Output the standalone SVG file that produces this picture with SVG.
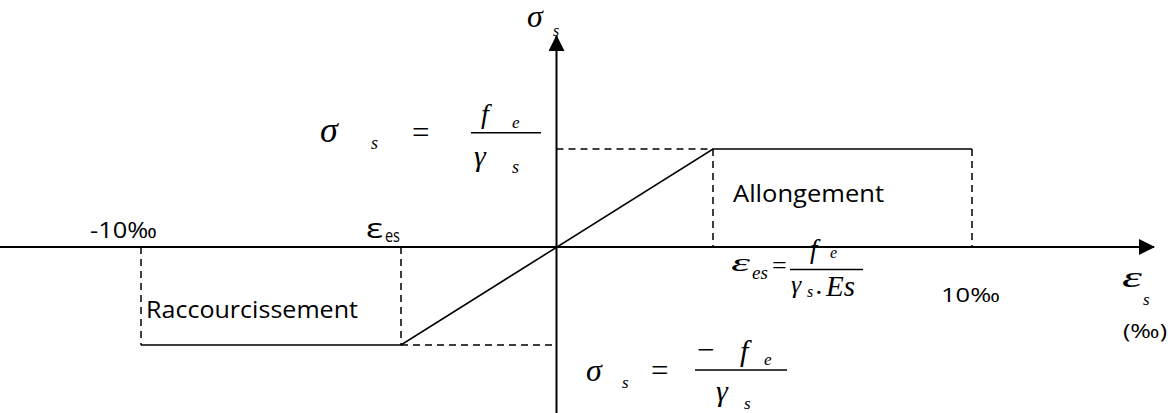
<svg xmlns="http://www.w3.org/2000/svg" width="1176" height="413" viewBox="0 0 1176 413">
<style>
.ax{stroke:#000;stroke-width:2;fill:none}
.ln{stroke:#000;stroke-width:1.6;fill:none}
.ds{stroke:#000;stroke-width:1.5;fill:none;stroke-dasharray:7 5}
.m{font-family:"Liberation Serif",serif;font-style:italic;fill:#000}
.r{font-family:"Liberation Serif",serif;fill:#000}
.t{font-family:"Open Sans","Noto Sans","Liberation Sans",sans-serif;fill:#000}
</style>
<defs>
<marker id="ah" viewBox="0 0 16 16" refX="15" refY="8" markerWidth="16" markerHeight="16" markerUnits="userSpaceOnUse" orient="auto">
<path d="M0,0 L16,8 L0,16 Z" fill="#000"/>
</marker>
</defs>
<g id="connectors">
<line class="ax" x1="0" y1="247" x2="1154" y2="247" marker-end="url(#ah)"/>
<line class="ax" x1="556.5" y1="413" x2="556.5" y2="36" marker-end="url(#ah)"/>
<polyline class="ln" points="141,345 401,345 713,149 972,149"/>
<line class="ds" x1="556.5" y1="149" x2="713" y2="149"/>
<line class="ds" x1="713" y1="149" x2="713" y2="247"/>
<line class="ds" x1="972" y1="149" x2="972" y2="247"/>
<line class="ds" x1="401" y1="345" x2="556.5" y2="345"/>
<line class="ds" x1="141" y1="247" x2="141" y2="345"/>
<line class="ds" x1="401" y1="247" x2="401" y2="345"/>
</g>
<g id="axis-y-label">
<text class="m" x="527" y="27" font-size="32">σ</text>
<text class="m" x="553" y="36" font-size="16">s</text>
</g>
<g id="formula-top">
<text class="m" x="320" y="142" font-size="36">σ</text>
<text class="m" x="371" y="149" font-size="18">s</text>
<text class="r" x="412" y="143" font-size="31">=</text>
<text class="m" x="481" y="123" font-size="28">f</text>
<text class="m" x="512" y="128" font-size="17">e</text>
<line class="ln" x1="471" y1="132.7" x2="541" y2="132.7" stroke-width="1.2"/>
<text class="m" x="474" y="166" font-size="30">γ</text>
<text class="m" x="512" y="173" font-size="18">s</text>
</g>
<g id="formula-bottom">
<text class="m" x="586" y="381" font-size="32">σ</text>
<text class="m" x="622" y="388" font-size="17">s</text>
<text class="r" x="651" y="381" font-size="31">=</text>
<text class="r" x="697" y="360" font-size="31">−</text>
<text class="m" x="740" y="361" font-size="30">f</text>
<text class="m" x="764" y="365" font-size="17">e</text>
<line class="ln" x1="695" y1="370" x2="787" y2="370" stroke-width="1.2"/>
<text class="m" x="716" y="401" font-size="30">γ</text>
<text class="m" x="744" y="409" font-size="17">s</text>
</g>
<g id="formula-eps">
<text class="m" x="731" y="271" font-size="26" textLength="19" lengthAdjust="spacingAndGlyphs">ε</text>
<text class="m" x="752" y="279" font-size="19">es</text>
<text class="r" x="772" y="274" font-size="26">=</text>
<text class="m" x="810" y="258" font-size="27">f</text>
<text class="m" x="830" y="258" font-size="16">e</text>
<line class="ln" x1="790" y1="269.5" x2="863" y2="269.5" stroke-width="1.2"/>
<text class="m" x="791" y="293" font-size="26">γ</text>
<text class="m" x="807" y="297" font-size="16">s</text>
<text class="m" x="816" y="294" font-size="28">.</text>
<text class="m" x="826" y="296" font-size="29">Es</text>
</g>
<g id="label-allongement">
<text class="t" x="733" y="202" font-size="23" textLength="151" lengthAdjust="spacingAndGlyphs">Allongement</text>
</g>
<g id="label-raccourcissement">
<text class="t" x="146" y="318" font-size="24" textLength="212" lengthAdjust="spacingAndGlyphs">Raccourcissement</text>
</g>
<g id="label-m10">
<text class="t" x="90" y="238" font-size="21" textLength="67" lengthAdjust="spacingAndGlyphs">-10‰</text>
</g>
<g id="label-epses">
<text class="t" x="366" y="238" font-size="27" textLength="17" lengthAdjust="spacingAndGlyphs">ε</text>
<text class="t" x="385" y="242" font-size="19" textLength="15" lengthAdjust="spacingAndGlyphs">es</text>
</g>
<g id="label-10">
<text class="t" x="941" y="302" font-size="20" textLength="59" lengthAdjust="spacingAndGlyphs">10‰</text>
</g>
<g id="axis-x-label">
<text class="m" x="1122" y="287" font-size="30" textLength="20" lengthAdjust="spacingAndGlyphs">ε</text>
<text class="m" x="1143" y="305" font-size="17">s</text>
<text class="t" x="1123" y="338" font-size="20" textLength="44" lengthAdjust="spacingAndGlyphs">(‰)</text>
</g>
</svg>
